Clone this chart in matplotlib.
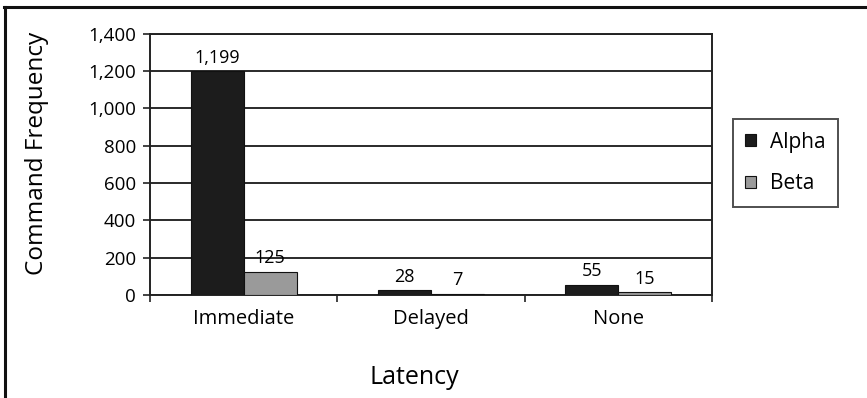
import numpy as np
import matplotlib.pyplot as plt
from matplotlib.lines import Line2D

plt.rcParams['font.family'] = ['Open Sans', 'DejaVu Sans']

categories = ['Immediate', 'Delayed', 'None']
alpha = [1199, 28, 55]
beta = [125, 7, 15]

fig = plt.figure(figsize=(8.67, 3.98), dpi=100)
ax = fig.add_axes([0.173, 0.259, 0.648, 0.656])

x = np.arange(len(categories))
w = 0.283
b1 = ax.bar(x - w / 2, alpha, w, color='#1c1c1c', edgecolor='#111111', lw=0.8, label='Alpha', zorder=3)
b2 = ax.bar(x + w / 2, beta, w, color='#9a9a9a', edgecolor='#111111', lw=0.8, label='Beta', zorder=3)

for bars, vals in ((b1, alpha), (b2, beta)):
    for r, v in zip(bars, vals):
        ax.annotate(f'{v:,}', (r.get_x() + r.get_width() / 2, v), xytext=(0, 3),
                    textcoords='offset points', ha='center', va='bottom',
                    fontsize=13, zorder=4)

ax.set_xlim(-0.5, 2.5)
ax.set_ylim(0, 1400)
ax.set_yticks(range(0, 1401, 200))
ax.set_yticklabels([f'{t:,}' for t in range(0, 1401, 200)], fontsize=13.5)
ax.yaxis.grid(True, color='#2a2a2a', lw=1.4, zorder=1)

# category labels sit between the boundary ticks
ax.set_xticks([-0.5, 0.5, 1.5, 2.5])
ax.set_xticklabels([])
ax.set_xticks(x, minor=True)
ax.set_xticklabels(categories, minor=True, fontsize=14.5)
ax.tick_params(axis='x', which='minor', length=0, pad=10)
ax.tick_params(axis='x', which='major', length=5, width=1.2, color='#222222')
ax.tick_params(axis='y', length=5, width=1.2, color='#222222', pad=5)

for s in ax.spines.values():
    s.set_color('#222222')
    s.set_linewidth(1.4)

ax.set_ylabel('Command Frequency', fontsize=17.5)
ax.yaxis.set_label_coords(-0.18, 0.54)
ax.set_xlabel('Latency', fontsize=18, va='top')
ax.xaxis.set_label_coords(0.47, -0.27)

leg = ax.legend(loc='center left', bbox_to_anchor=(1.037, 0.505), fontsize=15,
                frameon=True, fancybox=False, edgecolor='#222222',
                handlelength=0.5, handleheight=0.5, handletextpad=0.7,
                labelspacing=1.0, borderpad=0.6, borderaxespad=0)
leg.get_frame().set_linewidth(1.4)

# outer frame on top and left edges
fig.add_artist(Line2D([0.005, 1.0], [0.982, 0.982], transform=fig.transFigure, color='#111111', lw=2.2))
fig.add_artist(Line2D([0.006, 0.006], [0.0, 0.982], transform=fig.transFigure, color='#111111', lw=2.2))

fig.savefig('out.png', dpi=100)
